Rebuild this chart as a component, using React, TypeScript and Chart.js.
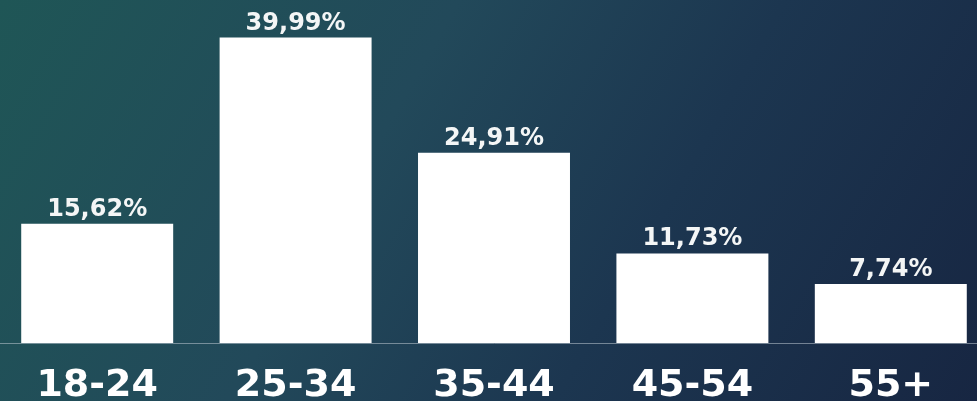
import React, { useEffect, useRef } from "react";
import { Chart, registerables } from "chart.js";

Chart.register(...registerables);

const categories = ["18-24", "25-34", "35-44", "45-54", "55+"];
const shares = [15.62, 39.99, 24.91, 11.73, 7.74];
const shareLabels = ["15,62%", "39,99%", "24,91%", "11,73%", "7,74%"];

const labelPlugin = {
  id: "labels",
  afterDatasetsDraw(chart: any) {
    const ctx = chart.ctx;
    const meta = chart.getDatasetMeta(0);
    const bottom = chart.chartArea.bottom;
    ctx.save();
    ctx.textAlign = "center";
    meta.data.forEach((bar: any, i: number) => {
      ctx.fillStyle = "#f4f6f6";
      ctx.font = "bold 24px 'DejaVu Sans'";
      ctx.textBaseline = "alphabetic";
      ctx.fillText(shareLabels[i], bar.x, bar.y - 8);
      ctx.fillStyle = "#ffffff";
      ctx.font = "bold 38px 'DejaVu Sans'";
      ctx.textBaseline = "middle";
      ctx.fillText(String(chart.data.labels[i]), bar.x, bottom + 43);
    });
    ctx.restore();
  },
};

export default function App() {
  const ref = useRef<HTMLCanvasElement | null>(null);

  useEffect(() => {
    document.body.style.margin = "0";
    if (!ref.current) return;
    const chart = new Chart(ref.current, {
      type: "bar",
      data: {
        labels: categories,
        datasets: [
          {
            data: shares,
            backgroundColor: "#ffffff",
            borderWidth: 0,
            categoryPercentage: 1,
            barPercentage: 0.766,
          },
        ],
      },
      options: {
        animation: false,
        responsive: false,
        maintainAspectRatio: false,
        layout: { padding: { top: 7, bottom: 58, left: 0, right: 0 } },
        plugins: {
          legend: { display: false },
          tooltip: { enabled: false },
          title: { display: false },
        },
        scales: {
          x: {
            grid: { display: false, drawTicks: false },
            border: { display: true, color: "rgba(190,200,210,0.55)", width: 1 },
            ticks: { display: false },
          },
          y: {
            display: false,
            min: 0,
            max: 44,
          },
        },
      },
      plugins: [labelPlugin],
    });
    return () => chart.destroy();
  }, []);

  return (
    <div
      style={{
        position: "relative",
        width: 977,
        height: 401,
        overflow: "hidden",
        background:
          "linear-gradient(120deg, #1f5656 0%, #22495a 38%, #1c3650 65%, #172642 100%)",
      }}
    >
      <canvas
        ref={ref}
        width={992}
        height={401}
        style={{ position: "absolute", left: -2, top: 0, width: 992, height: 401 }}
      />
    </div>
  );
}
